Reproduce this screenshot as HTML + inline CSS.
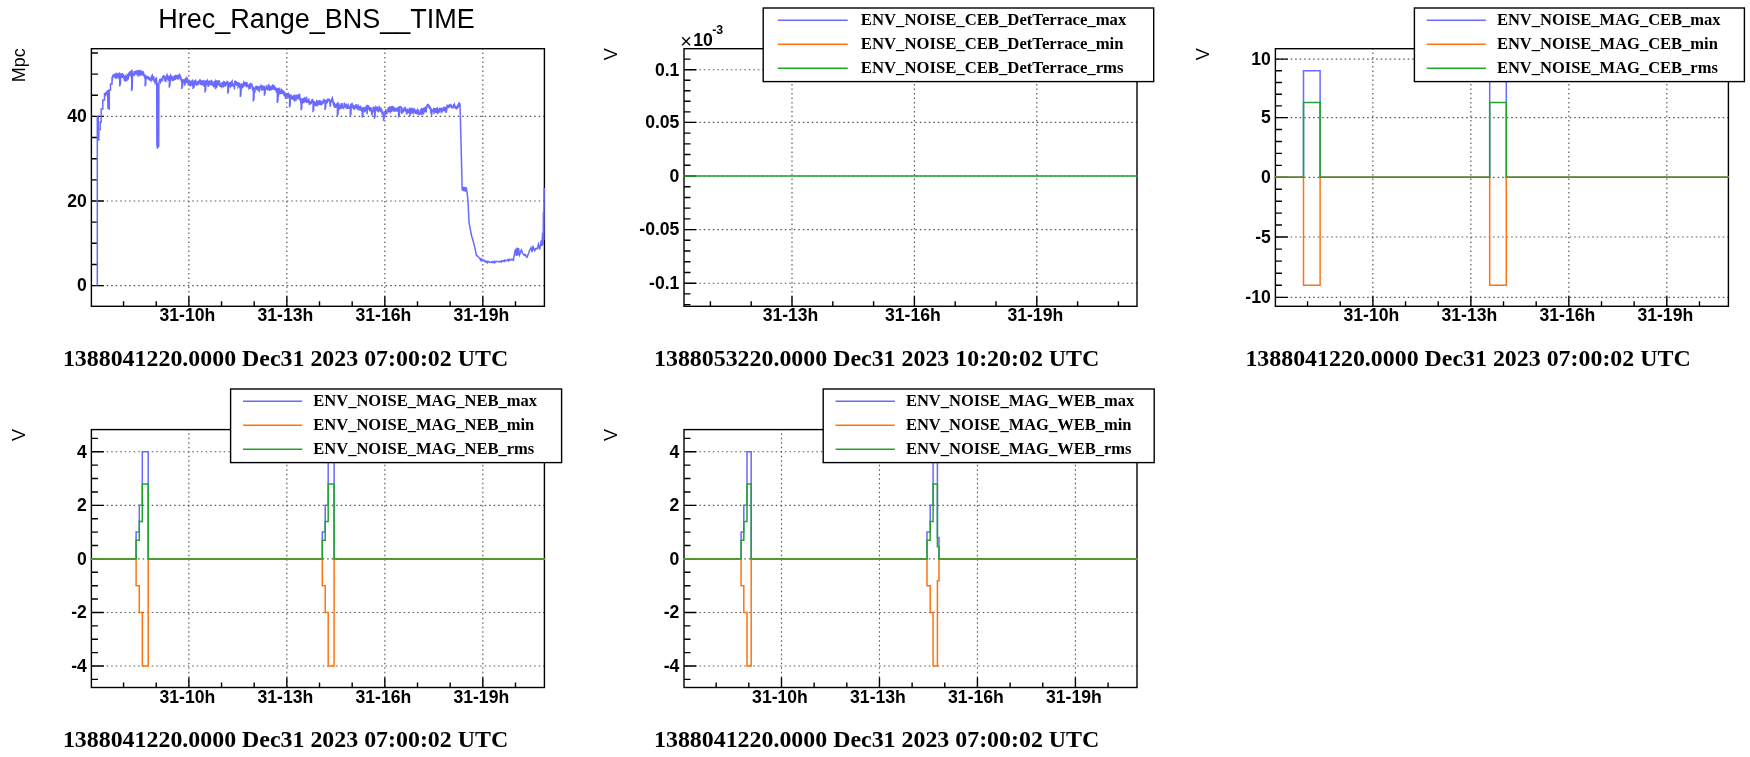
<!DOCTYPE html>
<html><head><meta charset="utf-8"><title>plots</title>
<style>
html,body{margin:0;padding:0;background:#fff;}
svg{display:block;will-change:transform}
text{fill:#000}
.tk{font-family:"Liberation Sans",sans-serif;font-weight:bold;font-size:17.6px}
.yt{font-family:"Liberation Sans",sans-serif;font-size:18px}
.ti{font-family:"Liberation Sans",sans-serif;font-size:27px}
.lg{font-family:"Liberation Serif",serif;font-weight:bold}
.bt{font-family:"Liberation Serif",serif;font-weight:bold;font-size:23.9px}
</style></head><body>
<svg width="1750" height="757" viewBox="0 0 1750 757">
<rect width="1750" height="757" fill="#fff"/>
<path d="M188.88 48.7V306.3M286.86 48.7V306.3M384.84 48.7V306.3M482.82 48.7V306.3" stroke="#555" stroke-width="1.15" stroke-dasharray="1.5 3" fill="none" stroke-dashoffset="0.75"/>
<path d="M91.4 285.6H544.4M91.4 201H544.4M91.4 116.4H544.4" stroke="#555" stroke-width="1.15" stroke-dasharray="1.5 3" fill="none" stroke-dashoffset="-1.8"/>
<path d="M188.88 306.3v-10M286.86 306.3v-10M384.84 306.3v-10M482.82 306.3v-10M123.56 306.3v-5M156.22 306.3v-5M221.54 306.3v-5M254.2 306.3v-5M319.52 306.3v-5M352.18 306.3v-5M417.5 306.3v-5M450.16 306.3v-5M515.48 306.3v-5M91.4 285.6h12.4M91.4 201h12.4M91.4 116.4h12.4M91.4 264.45h6.5M91.4 243.3h6.5M91.4 222.15h6.5M91.4 179.85h6.5M91.4 158.7h6.5M91.4 137.55h6.5M91.4 95.25h6.5M91.4 74.1h6.5M91.4 52.95h6.5" stroke="#000" stroke-width="1.4" fill="none"/>
<rect x="91.4" y="48.7" width="453" height="257.6" fill="none" stroke="#000" stroke-width="1.4"/>
<text x="187.38" y="320.6" class="tk" text-anchor="middle">31-10h</text>
<text x="285.36" y="320.6" class="tk" text-anchor="middle">31-13h</text>
<text x="383.34" y="320.6" class="tk" text-anchor="middle">31-16h</text>
<text x="481.32" y="320.6" class="tk" text-anchor="middle">31-19h</text>
<text x="86.8" y="291.4" class="tk" text-anchor="end">0</text>
<text x="86.8" y="206.8" class="tk" text-anchor="end">20</text>
<text x="86.8" y="122.2" class="tk" text-anchor="end">40</text>
<text transform="translate(24.6 48.2) rotate(-90)" class="yt" text-anchor="end">Mpc</text>
<path d="M97.3 285.6 L97.3 117 L98.3 117 L98.3 140 L98.8 140 L98.8 129.5 L100.2 129.5 L100.2 122 L101.2 122 L101.2 109 L102.8 109 L102.8 100 L104.5 100 L104.5 93 L105.2 96 L106 92 L106.8 95 L107.5 90 L108 109 L108.6 90 L109.3 110 L109.3 90 L110.5 90 L110.5 84 L112 84 L112 79 L112.3 79.34 L112.6 76.11 L112.9 75.84 L113.2 74.7 L113.5 77.45 L113.8 74.25 L114.1 76.68 L114.4 73.71 L114.7 77.7 L115 73.61 L115.3 75.22 L115.6 73.62 L115.9 78.7 L116.2 77.81 L116.5 73.43 L116.8 73.58 L117.1 77.92 L117.4 76.08 L117.7 77.3 L118 77.62 L118.3 73.24 L118.6 78.02 L118.9 73.97 L119.2 76.5 L119.5 73.51 L119.8 73.94 L119.7 86.4 L120.1 77.16 L120.3 84.9 L120.6 77.16 L120.1 78.45 L120.4 74.83 L120.7 75.69 L121 73.45 L121.3 74.71 L121.6 77.63 L121.9 74.15 L122.2 73.96 L122.5 77.49 L122.8 77.5 L123.1 75.17 L123.4 74.91 L123.7 76.06 L124 77.65 L124.3 79.99 L124.6 80.99 L124.9 76.53 L125.2 76.12 L125.5 79.16 L125.8 80.88 L126.1 80.6 L126.4 75.92 L126.7 79.96 L127 79.82 L127.3 74.81 L127.6 75.11 L127.9 75.9 L128.2 78.76 L128.5 78.15 L128.8 73.44 L129.1 72.57 L129.4 74.75 L129.7 75.84 L130 72.03 L130.3 71.14 L130.6 75.23 L130.9 75.75 L131.2 74.53 L131.5 70.52 L131.8 70.38 L131.6 91 L132 74 L132.2 89.5 L132.5 74 L132.1 71 L132.4 75.06 L132.7 74.32 L133 75.06 L133.3 75.04 L133.6 75.07 L133.9 75.06 L134.2 71.07 L134.5 74.83 L134.8 74.48 L135.1 72.92 L135.4 71.19 L135.7 73.02 L136 72.84 L136.3 70.41 L136.6 74.02 L136.9 74.05 L137.2 70.58 L137.5 74.98 L137.8 75.41 L138.1 70.94 L138.4 70.51 L138.7 70.58 L139 75.29 L139.3 73.93 L139.6 74.51 L139.9 70.16 L140.2 70.89 L140.5 72.27 L140.8 73.14 L141.1 75.36 L141.4 73.55 L141.7 75.64 L142 70.43 L142.3 74.77 L142.6 73.51 L142.9 74.68 L143.2 71.51 L143.5 72.26 L143.8 76.28 L144.1 75.35 L144.4 74.5 L144.7 78.52 L145 74.33 L145.3 78.91 L145.1 86.4 L145.5 76.8 L145.7 84.9 L146 76.8 L145.6 80.39 L145.9 80.33 L146.2 76.04 L146.5 76.08 L146.8 77.44 L147.1 76.81 L147.4 76.76 L147.7 77.54 L148 76.03 L148.3 77.66 L148.6 77.97 L148.9 79.64 L149.2 77.22 L149.5 80.47 L149.8 79.47 L150.1 80.58 L150.4 78.15 L150.7 80.38 L151 76.69 L151.3 80.32 L151.6 79.73 L151.9 75.58 L152.2 75.2 L152.5 79.47 L152.8 79.35 L153.1 76.24 L153.4 80.51 L153.7 76 L154 80.44 L154.3 82.11 L154.6 79.32 L154.9 81.4 L155.2 83.05 L155.5 82.33 L155.8 77.72 L156.1 78.91 L156.4 78.44 L156.7 81.98 L156.9 146.35 L157.1 84.59 L157.35 148.76 L157.55 82.91 L157.8 147.73 L158 83.48 L158.25 147.52 L158.45 84.78 L158.7 146.85 L158.9 83.45 L159.5 80.42 L159.8 79.29 L160.1 82.26 L160.4 78.62 L160.7 81.88 L161 81.24 L161.3 80.5 L161.6 78.22 L161.9 81.43 L162.2 78.68 L162.5 78.28 L162.8 76.87 L163.1 77.05 L163.4 76.53 L163.7 75.77 L164 75.8 L164.3 79.78 L164.6 79.34 L164.9 79.44 L165.2 76.86 L165.5 80.63 L165.8 82.12 L166.1 75.75 L166.4 79.22 L166.7 75.47 L167 74.78 L167.3 75.8 L167.6 79.63 L167.9 75.47 L168.2 79.75 L168.5 79.28 L168.8 76.03 L169.1 77.34 L169.4 79.44 L169.3 87.8 L169.7 77.88 L169.9 86.3 L170.2 77.88 L169.7 78.22 L170 76.14 L170.3 75.62 L170.6 80.99 L170.9 79.85 L171.2 76.45 L171.5 75.35 L171.8 77.05 L172.1 76.29 L172.4 78.62 L172.7 80.82 L173 79.49 L173.3 79.5 L173.6 77.79 L173.9 76.23 L174.2 79.66 L174.5 79.37 L174.8 76.17 L175.1 75.91 L175.4 79.84 L175.7 76.4 L176 75.94 L176.3 75.83 L176.6 78.11 L176.9 78.78 L177.2 74.86 L177.5 79.32 L177.8 76.1 L178.1 78.93 L178.4 78.87 L178.7 75.55 L179 74.99 L179.3 78.1 L179.6 75.66 L179.9 75.57 L180.2 75.42 L180.5 79.82 L180.8 76.7 L181.1 79.21 L181.4 82.01 L181.7 80.54 L182 79.07 L181.8 89 L182.2 81.37 L182.4 87.5 L182.7 81.37 L182.3 83.08 L182.6 82.67 L182.9 79.13 L183.2 83.18 L183.5 81.17 L183.8 80.44 L184.1 80.84 L184.4 82.72 L184.7 85.72 L185 78.45 L185.3 83.63 L185.6 83.53 L185.9 78.76 L186.2 79.09 L186.5 78.81 L186.8 83.07 L187.1 78.2 L187.4 78.82 L187.7 81.99 L188 82.43 L188.3 84.43 L188.6 84.01 L188.9 82.57 L189.2 80.32 L189.5 84.98 L189.8 85.17 L190.1 84.93 L190.4 85.24 L190.7 80.69 L191 82.88 L191.3 80.72 L191.6 84.72 L191.9 84.98 L192.2 81.6 L192.5 80.16 L192.8 80.37 L193.1 83.88 L193 89 L193.4 81.8 L193.6 87.5 L193.9 81.8 L193.4 84.48 L193.7 86.78 L194 86.93 L194.3 85.89 L194.6 80.5 L194.9 84.83 L195.2 80.78 L195.5 80.23 L195.8 80.57 L196.1 84.72 L196.4 81.6 L196.7 85.76 L197 83.58 L197.3 83.52 L197.6 84.82 L197.9 81.19 L198.2 84.98 L198.5 81.35 L198.8 81.13 L199.1 80.97 L199.4 80.59 L199.7 80.19 L200 83.53 L200.3 84.31 L200.6 79.78 L200.9 84.93 L201.2 80.27 L201.5 83.19 L201.8 80.64 L202.1 84.53 L202.4 85.2 L202.7 80.95 L203 80.86 L203.3 85.18 L203.6 85.48 L203.9 83.17 L204.2 81.28 L204.5 84.78 L204.8 81.05 L205.1 80.43 L205 92.4 L205.4 81.8 L205.6 90.9 L205.9 81.8 L205.4 85.25 L205.7 83.83 L206 83.95 L206.3 85.5 L206.6 81.26 L206.9 80.77 L207.2 83.9 L207.5 80.83 L207.8 81.52 L208.1 86.77 L208.4 85.4 L208.7 82.95 L209 80.69 L209.3 85.27 L209.6 83.21 L209.9 80.67 L210.2 82.55 L210.5 82.52 L210.8 80.91 L211.1 85.33 L211.4 81.03 L211.7 80.62 L212 81.25 L212.3 84.5 L212.6 85.16 L212.9 85.34 L213.2 85.32 L213.5 85.88 L213.8 82.53 L214.1 81.49 L214.4 87.25 L214.7 81.08 L215 81.76 L215.3 81.21 L215.6 89.32 L215.9 84.17 L215.9 88 L216.3 82.28 L216.5 86.5 L216.8 82.28 L216.2 80.35 L216.5 86.87 L216.8 87.73 L217.1 81.25 L217.4 80.39 L217.7 83.75 L218 81.33 L218.3 85.43 L218.6 80.25 L218.9 85.06 L219.2 80.81 L219.5 81.62 L219.8 85.94 L220.1 86.12 L220.4 84.58 L220.7 85.26 L221 85.76 L221.3 86.47 L221.6 85.19 L221.9 83.43 L222.2 83.8 L222.5 82.15 L222.8 86.6 L223.1 86.8 L223.4 86.11 L223.7 81.78 L224 81.99 L224.3 81.84 L224.6 82.1 L224.9 86.41 L225.2 82.43 L225.5 86.38 L225.8 85.69 L226.1 84.21 L226.4 82.53 L226.7 82.31 L227 84.28 L227.3 81.52 L227.6 81.69 L227.9 82.85 L227.8 93.7 L228.2 83.37 L228.4 92.2 L228.7 83.37 L228.2 86.46 L228.5 85.75 L228.8 82.22 L229.1 86.28 L229.4 83.2 L229.7 85.66 L230 86.27 L230.3 81.99 L230.6 86.82 L230.9 82.42 L231.2 86.58 L231.5 81.7 L231.8 81.76 L232.1 81.24 L232.4 85.27 L232.7 84.74 L233 84.9 L233.3 85.38 L233.6 84.77 L233.9 86.28 L234.2 85.26 L234.5 89.46 L234.8 80.83 L235.1 83.1 L235.4 80.69 L235.7 83.47 L236 85.11 L236.3 81.38 L236.6 85.68 L236.9 82.12 L237.2 83.45 L237.5 82.15 L237.8 83.44 L238.1 86.99 L238.4 86.37 L238.7 83.44 L239 83.74 L239.3 83.5 L239.6 84.49 L239.9 88.35 L240.2 86.33 L240.5 85.11 L240.3 97 L240.7 87.66 L240.9 95.5 L241.2 87.66 L240.8 84.55 L241.1 84.3 L241.4 87.77 L241.7 83.87 L242 84.67 L242.3 88.26 L242.6 87.12 L242.9 85.46 L243.2 83.3 L243.5 87.15 L243.8 82.61 L244.1 83.17 L244.4 83.44 L244.7 85.79 L245 85.01 L245.3 82.94 L245.6 83.4 L245.9 82.46 L246.2 87.16 L246.5 83.3 L246.8 82 L247.1 84.13 L247.4 86 L247.7 86.28 L248 87.13 L248.3 84.25 L248.6 86.45 L248.9 88.02 L249.2 87.23 L249.5 85.01 L249.8 84.52 L250.1 89.02 L250.4 85.53 L250.7 83.92 L251 84.19 L251.3 84.89 L251.6 83.44 L251.9 84.42 L252.2 86.95 L252.5 89.35 L252.8 90.24 L253.1 87.9 L253.4 86.49 L253.3 101.6 L253.7 87.64 L253.9 100.1 L254.2 87.64 L253.7 91.98 L254 89.15 L254.3 90.43 L254.6 91.72 L254.9 91.77 L255.2 87.38 L255.5 88.98 L255.8 86.65 L256.1 86.42 L256.4 86.88 L256.7 90.01 L257 88.38 L257.3 86.09 L257.6 87.1 L257.9 86.03 L258.2 89.82 L258.5 90.29 L258.8 90.65 L259.1 91.06 L259.4 86.57 L259.7 90.65 L260 85.92 L260.3 87.47 L260.6 86.12 L260.9 88.01 L261.2 85.68 L261.5 86.28 L261.8 90.6 L262.1 88.89 L262.4 90.5 L262.7 85.3 L263 90.14 L263.3 89.28 L263.6 89.14 L263.9 88.36 L264.2 85.96 L264.5 89.01 L264.4 95.7 L264.8 88.57 L265 94.2 L265.3 88.57 L264.8 88.87 L265.1 89.66 L265.4 89.65 L265.7 87.29 L266 89.69 L266.3 85.99 L266.6 86.08 L266.9 88.21 L267.2 89.67 L267.5 87.72 L267.8 89.5 L268.1 89.32 L268.4 85.09 L268.7 84.78 L269 85.44 L269.3 90.08 L269.6 90.21 L269.9 85.72 L270.2 90 L270.5 87.34 L270.8 86.16 L271.1 90.19 L271.4 89.32 L271.7 88.91 L272 85.44 L272.3 89.77 L272.6 85.05 L272.9 85.12 L273.2 85.78 L273.5 88.48 L273.8 88.05 L274.1 87.11 L274.4 85.36 L274.7 90.03 L275 87.91 L275.3 87.12 L275.6 90.84 L275.9 89.81 L276.2 87.77 L276.5 92.93 L276.8 87.8 L277.1 89.33 L277.4 88.47 L277.3 103 L277.7 91.52 L277.9 101.5 L278.2 91.52 L277.7 88.43 L278 89.41 L278.3 96.9 L278.6 93.07 L278.9 89.83 L279.2 88.68 L279.5 89.21 L279.8 94.47 L280.1 91.31 L280.4 92.67 L280.7 93.75 L281 91.4 L281.3 89.65 L281.6 90.22 L281.9 93.93 L282.2 89.63 L282.5 92.57 L282.8 90.94 L283.1 90.98 L283.4 92.51 L283.7 95.09 L284 91.07 L284.3 94.98 L284.6 95.77 L284.9 96.03 L285.2 92.59 L285.5 98.97 L285.8 95.72 L286.1 96.39 L286.4 96.45 L286.7 93.16 L287 94.33 L287.3 97.74 L287.6 93.02 L287.9 93.79 L288.2 93.75 L288.5 98.12 L288.8 93.9 L289.1 94.25 L289.4 95.94 L289.7 96.35 L289.5 107.6 L289.9 96.12 L290.1 106.1 L290.4 96.12 L290 98.75 L290.3 97.81 L290.6 99.31 L290.9 94.55 L291.2 95.5 L291.5 99.31 L291.8 95.69 L292.1 99.36 L292.4 95.78 L292.7 98.57 L293 99.2 L293.3 99.23 L293.6 95.37 L293.9 100.46 L294.2 99.52 L294.5 94.49 L294.8 101.56 L295.1 98.49 L295.4 97.03 L295.7 98.97 L296 99.38 L296.3 94.55 L296.6 97.74 L296.9 95.24 L297.2 98.78 L297.5 94.91 L297.8 99.5 L298.1 98.75 L298.4 95.36 L298.7 97.94 L299 93.9 L299.3 97.62 L299.6 93.8 L299.9 99.04 L300.2 100.67 L300.5 97.66 L300.8 102.68 L301.1 103.16 L301.1 110.2 L301.5 100.97 L301.7 108.7 L302 100.97 L301.4 99.34 L301.7 99.49 L302 103.58 L302.3 102.9 L302.6 102.59 L302.9 98.74 L303.2 98.72 L303.5 98.85 L303.8 103.19 L304.1 97.86 L304.4 98.9 L304.7 102.23 L305 98.19 L305.3 98.58 L305.6 98.84 L305.9 102.24 L306.2 98.51 L306.5 97.94 L306.8 102.95 L307.1 98.79 L307.4 102.89 L307.7 101.91 L308 101.8 L308.3 102.13 L308.6 102.48 L308.9 98.6 L309.2 103.58 L309.5 105 L309.8 103.18 L310.1 102.43 L310.4 102.99 L310.7 102.3 L311 102.85 L311.3 103.08 L311.6 101.73 L311.9 102.61 L312.2 100.52 L312.5 98.89 L312.8 99.95 L313.1 104.11 L313 112.2 L313.4 101 L313.6 110.7 L313.9 101 L313.4 103.85 L313.7 102.02 L314 105.42 L314.3 101.15 L314.6 105.62 L314.9 101.97 L315.2 104.79 L315.5 105.39 L315.8 105.36 L316.1 103.91 L316.4 104.45 L316.7 99.92 L317 101.1 L317.3 104.3 L317.6 100.89 L317.9 104.92 L318.2 104.59 L318.5 100.88 L318.8 101.97 L319.1 104.57 L319.4 100.13 L319.7 105.01 L320 100.06 L320.3 102.06 L320.6 104.53 L320.9 104.46 L321.2 101.21 L321.5 104.39 L321.8 104.5 L322.1 103.62 L322.4 100.97 L322.7 103.4 L323 100.28 L323.3 103.64 L323.6 99.97 L323.9 99.58 L324.2 99.94 L324.5 99.92 L324.8 99.26 L325.1 104.11 L325 110 L325.4 101.6 L325.6 108.5 L325.9 101.6 L325.4 100.12 L325.7 101.91 L326 103.65 L326.3 103.42 L326.6 101.17 L326.9 99.75 L327.2 103.07 L327.5 102.14 L327.8 98.53 L328.1 101.27 L328.4 99.69 L328.7 99.52 L329 99.25 L329.3 99.78 L329.6 100.74 L329.9 103.4 L330.2 106.57 L330.5 104.16 L330.8 99.89 L331.1 102.17 L331.4 99.22 L331.7 101.09 L332 98.52 L332.3 98 L332.6 102.54 L332.9 99.24 L333.2 103.43 L333.5 104.5 L333.8 103.41 L334.1 102.18 L334.4 104.91 L334.7 106.54 L335 107.96 L335.3 104.33 L335.6 105.03 L335.9 104.66 L336.2 107.6 L336.5 106.4 L336.8 105.56 L337.1 103.9 L337.4 108.84 L337.4 116.2 L337.8 105.06 L338 114.7 L338.3 105.06 L337.7 104.34 L338 108.77 L338.3 103.74 L338.6 104.34 L338.9 104.24 L339.2 108.89 L339.5 108.3 L339.8 104.92 L340.1 108.41 L340.4 104.9 L340.7 108.36 L341 108.43 L341.3 103.81 L341.6 103.89 L341.9 107.41 L342.2 103.4 L342.5 107.61 L342.8 107.94 L343.1 107.74 L343.4 107.86 L343.7 108.3 L344 107.2 L344.3 102.65 L344.6 106.65 L344.9 106.42 L345.2 104.26 L345.5 106.3 L345.8 107.29 L346.1 107.56 L346.4 103.67 L346.7 108.28 L347 105.06 L347.3 108.88 L347.6 107.99 L347.9 105.49 L348.2 104.99 L348.5 107.43 L348.8 107.27 L349.1 108.13 L349.4 108.11 L349.7 105.73 L350 107.21 L350.3 107.44 L350.3 116.2 L350.7 105.4 L350.9 114.7 L351.2 105.4 L350.6 103.74 L350.9 105.15 L351.2 107.92 L351.5 107.69 L351.8 107.51 L352.1 102.89 L352.4 107.92 L352.7 104.43 L353 108.41 L353.3 104.95 L353.6 108.44 L353.9 108.92 L354.2 106.86 L354.5 106.19 L354.8 106.35 L355.1 108.72 L355.4 107.71 L355.7 105.33 L356 104.07 L356.3 106.34 L356.6 106.6 L356.9 107.82 L357.2 108.82 L357.5 108.73 L357.8 109.13 L358.1 104.28 L358.4 107.88 L358.7 109.25 L359 105.94 L359.3 109.48 L359.6 106.89 L359.9 110.68 L360.2 106.33 L360.5 106.29 L360.8 106.59 L361.1 108.36 L361.4 108.66 L361.7 111.76 L362 108.25 L362.3 111.88 L362.2 117.5 L362.6 109.01 L362.8 116 L363.1 109.01 L362.6 107.34 L362.9 110.12 L363.2 107.95 L363.5 107.15 L363.8 111.48 L364.1 107.33 L364.4 110.31 L364.7 111.63 L365 111.6 L365.3 106.77 L365.6 111.02 L365.9 106.82 L366.2 109.8 L366.5 105.58 L366.8 108.15 L367.1 114.23 L367.4 105.76 L367.7 106.06 L368 109.85 L368.3 106.1 L368.6 106 L368.9 108.06 L369.2 109.56 L369.5 107.14 L369.8 111.57 L370.1 107.07 L370.4 110.81 L370.7 107.6 L371 111.08 L371.3 107.43 L371.6 112.03 L371.9 115.43 L372.2 112.58 L372.5 112.73 L372.8 111.93 L373.1 109.28 L373.4 106.46 L373.7 107.22 L374 111.8 L374.3 107.91 L374.6 112.5 L374.4 118.8 L374.8 109.78 L375 117.3 L375.3 109.78 L374.9 112.61 L375.2 108.02 L375.5 107.45 L375.8 109.56 L376.1 111.17 L376.4 108.95 L376.7 106.86 L377 108.65 L377.3 108.09 L377.6 106.42 L377.9 110.91 L378.2 110.61 L378.5 107.85 L378.8 111.29 L379.1 110.95 L379.4 107.32 L379.7 107.9 L380 110.09 L380.3 110.59 L380.6 109.19 L380.9 107.49 L381.2 112.53 L381.5 110.78 L381.8 110.44 L382.1 114.45 L382.4 112.01 L382.7 113.07 L383 112.64 L383.3 115.77 L383.6 118.97 L383.4 120.8 L383.8 115.47 L384 119.3 L384.3 115.47 L383.9 113.57 L384.2 113.35 L384.5 114.65 L384.8 115.23 L385.1 112.53 L385.4 114.33 L385.7 108.98 L386 113.65 L386.3 113.53 L386.6 111.37 L386.9 114.12 L387.2 110.67 L387.5 111.61 L387.8 112.41 L388.1 107.65 L388.4 111.09 L388.7 111.32 L389 107.06 L389.3 111.1 L389.6 111.28 L389.9 107.06 L390.2 107.16 L390.5 111.8 L390.8 111.24 L391.1 111.49 L391.4 111.32 L391.7 106.94 L392 107.17 L392.3 107.08 L392.6 107.67 L392.9 111.19 L393.2 106.89 L393.5 107.19 L393.8 111.6 L394.1 106.96 L394.4 109.93 L394.7 108.05 L395 111.39 L395.3 109.06 L395.6 111.59 L395.9 109.8 L396.2 108.3 L396.5 108.34 L396.8 109.33 L397.1 110.6 L397.4 111.04 L397.7 111.13 L398 107.59 L398.3 107.63 L398.6 107.46 L398.6 117.5 L399 110.64 L399.2 116 L399.5 110.64 L398.9 107.57 L399.2 107.11 L399.5 107.61 L399.8 106.97 L400.1 107.13 L400.4 107.11 L400.7 106.83 L401 107.66 L401.3 111.73 L401.6 113.97 L401.9 107.34 L402.2 111.72 L402.5 110.22 L402.8 110.96 L403.1 111.83 L403.4 111.66 L403.7 111.11 L404 107.81 L404.3 110.96 L404.6 109.08 L404.9 109.01 L405.2 107.54 L405.5 107.96 L405.8 111.75 L406.1 109.33 L406.4 112.74 L406.7 113.62 L407 113.24 L407.3 109.94 L407.6 108.55 L407.9 113.33 L408.2 109.21 L408.5 112.52 L408.8 112.55 L409.1 112.37 L409.4 112.54 L409.7 107.55 L410 112.58 L409.8 116.2 L410.2 110.83 L410.4 114.7 L410.7 110.83 L410.3 109.09 L410.6 112.61 L410.9 107.98 L411.2 113.33 L411.5 110.46 L411.8 108.46 L412.1 108.41 L412.4 112.2 L412.7 112.09 L413 112.73 L413.3 108.55 L413.6 109.25 L413.9 109.17 L414.2 109.07 L414.5 112.66 L414.8 110.45 L415.1 112.07 L415.4 113.8 L415.7 109.47 L416 110.49 L416.3 113.83 L416.6 110.13 L416.9 112.92 L417.2 114.4 L417.5 112.61 L417.8 109.97 L418.1 110.61 L418.4 109.88 L418.7 114 L419 114.36 L419.3 113.93 L419.6 114.29 L419.9 114.18 L420.2 112.86 L420.5 109.6 L420.8 113.66 L421.1 109.41 L421.4 109.07 L421.7 112.44 L421.7 115.5 L422.1 110.43 L422.3 114 L422.6 110.43 L422 109.86 L422.3 113.94 L422.6 108.26 L422.9 112.85 L423.2 112.66 L423.5 107.68 L423.8 112.74 L424.1 112.18 L424.4 111.15 L424.7 107.22 L425 112.24 L425.3 106.86 L425.6 110.99 L425.9 108.35 L426.2 112.56 L426.5 105.75 L426.8 108.5 L427.1 105.19 L427.4 104.72 L427.7 104.98 L428 104.63 L428.3 104.94 L428.6 105.68 L428.9 107.64 L429.2 106.77 L429.5 106.37 L429.8 108.8 L430.1 107.69 L430.4 107.03 L430.7 112.3 L431 112.78 L431.3 108.54 L431.6 115.61 L431.9 111.84 L432.2 111.46 L432.5 111.39 L432.8 110.67 L433.1 111.64 L433.4 110.09 L433.7 107.94 L434 110.34 L434 114 L434.4 109.83 L434.6 112.5 L434.9 109.83 L434.3 112.3 L434.6 109.44 L434.9 107.98 L435.2 112.74 L435.5 108.42 L435.8 112.51 L436.1 109.55 L436.4 113.06 L436.7 112.31 L437 108.24 L437.3 108.03 L437.6 113.34 L437.9 113.09 L438.2 112.61 L438.5 108.65 L438.8 110.68 L439.1 110.83 L439.4 112.68 L439.7 108.34 L440 108.41 L440.3 108.4 L440.6 108.44 L440.9 109.14 L441.2 111.41 L441.5 110.71 L441.8 107.77 L442.1 109.56 L442.4 111.07 L442.7 110.36 L443 108.42 L443.3 110.91 L443.6 107.57 L443.9 107.42 L444.2 107.36 L444.5 111.41 L444.8 109.05 L445.1 106.93 L445.4 109.2 L445.7 110.25 L446 106.72 L446 113 L446.4 108.6 L446.6 111.5 L446.9 108.6 L446.3 108.18 L446.6 108.69 L446.9 108.65 L447.2 105.48 L447.5 105.68 L447.8 105.53 L448.1 107.02 L448.4 106.86 L448.7 108.11 L449 106.45 L449.3 105.4 L449.6 105.86 L449.9 107.47 L450.2 105.64 L450.5 105.17 L450.8 106.79 L451.1 105.18 L451.4 105.21 L451.7 107.13 L452 108.23 L452.3 106.69 L452.6 107.21 L452.9 107.62 L453.2 107.03 L453.5 107.05 L453.8 104.16 L454.1 105.07 L454.4 104.46 L454.7 106.09 L455 107.61 L455.3 107.92 L455.6 105.72 L455.9 108.3 L456.2 106.65 L456.5 107.97 L456.8 109.42 L457.1 107.63 L457.4 106.67 L457.7 104.63 L458 107.32 L458.3 107.03 L458.6 106.36 L458.9 103.11 L459.2 103.31 L459.5 104.82 L459.8 105.86 L460.1 104.68 L460 103.2 L461.1 145.5 L462.2 190.5 L463 187 L463.8 191 L464.6 186.8 L465.4 191.5 L466.2 187.5 L467 191.8 L468 201 L468.5 211.46 L469 222.01 L469.55 225.38 L470.1 228.32 L470.65 231.1 L471.2 234.02 L471.72 236.25 L472.24 238.13 L472.76 239.56 L473.28 241.61 L473.8 243.44 L474.34 245.67 L474.88 247.88 L475.42 250.44 L475.96 253.01 L476.5 255.36 L477.06 255.89 L477.61 255.91 L478.17 256.61 L478.73 257.32 L479.29 258.04 L479.84 258.54 L480.4 259.86 L480.91 258.97 L481.42 260.4 L481.92 259.56 L482.43 260.63 L482.94 259.98 L483.45 260.67 L483.95 260.58 L484.46 260.31 L484.97 261.58 L485.48 261.81 L485.98 261.26 L486.49 262.18 L487 261.97 L487.5 262.68 L488.01 261.38 L488.51 261.83 L489.02 261.62 L489.52 262.17 L490.03 262.39 L490.53 262.48 L491.04 262.07 L491.54 261.84 L492.05 262.42 L492.55 261.45 L493.06 261.66 L493.56 262.35 L494.07 261.92 L494.57 262.69 L495.08 261.43 L495.58 261.95 L496.09 261.6 L496.59 261.3 L497.1 261.43 L497.6 261.43 L498.13 261.72 L498.65 261.72 L499.18 261.73 L499.71 261.33 L500.23 261.82 L500.76 261.46 L501.29 262.02 L501.81 260.79 L502.34 261.17 L502.87 261.06 L503.39 260.79 L503.92 261.39 L504.45 260.38 L504.97 261.22 L505.5 260.4 L506 260.29 L506.5 260.6 L507 260.44 L507.5 259.97 L508 259.61 L508.5 260.75 L509 259.85 L509.5 259.41 L510 260.09 L510.5 259.83 L511 259.46 L511.5 259.38 L512 260.03 L512.5 259.24 L513 259.27 L513.5 259.94 L514.02 256.46 L514.55 253.86 L515.08 250.88 L515.6 248.93 L516.3 256 L517 247.5 L517.8 255.5 L518.6 248 L519.5 255 L520.13 253.56 L520.77 251.59 L521.4 249.87 L521.93 250.96 L522.47 253.07 L523 253.94 L523.6 254.79 L524.2 254.47 L524.8 255.3 L525.4 254.64 L525.93 255.47 L526.47 257.08 L527 257.26 L527.6 255.85 L528.2 254.2 L528.8 252.76 L529.4 250.98 L529.93 249.61 L530.47 248.94 L531 247.67 L531.5 249.36 L532 252.2 L532.5 248.74 L533 246.66 L533.5 247.54 L534 249.51 L534.5 250.74 L535 250.24 L535.5 248.82 L536 248.48 L536.65 248.91 L537.3 248.49 L537.9 246.23 L538.5 244.25 L539.05 246.81 L539.6 249.66 L540.17 246.99 L540.73 243.8 L541.3 240.41 L542 246 L542.6 232.9 L543.1 245 L543.4 211.7 L543.8 240 L544.2 187.9" stroke="#6a6aff" stroke-width="1.5" fill="none" stroke-linejoin="miter"/>
<text x="316.5" y="28" class="ti" text-anchor="middle">Hrec_Range_BNS__TIME</text>
<text x="62.9" y="365.7" class="bt">1388041220.0000 Dec31 2023 07:00:02 UTC</text>
<path d="M792 48.7V306.3M914.4 48.7V306.3M1036.8 48.7V306.3" stroke="#555" stroke-width="1.15" stroke-dasharray="1.5 3" fill="none" stroke-dashoffset="0.75"/>
<path d="M684 283.2H1137M684 229.6H1137M684 176H1137M684 122.4H1137M684 69.7H1137" stroke="#555" stroke-width="1.15" stroke-dasharray="1.5 3" fill="none" stroke-dashoffset="-1.8"/>
<path d="M792 306.3v-10M914.4 306.3v-10M1036.8 306.3v-10M710.4 306.3v-5M751.2 306.3v-5M832.8 306.3v-5M873.6 306.3v-5M955.2 306.3v-5M996 306.3v-5M1077.6 306.3v-5M1118.4 306.3v-5M684 283.2h12.4M684 229.6h12.4M684 176h12.4M684 122.4h12.4M684 69.7h12.4M684 304.64h6.5M684 293.92h6.5M684 272.48h6.5M684 261.76h6.5M684 251.04h6.5M684 240.32h6.5M684 218.88h6.5M684 208.16h6.5M684 197.44h6.5M684 186.72h6.5M684 165.28h6.5M684 154.56h6.5M684 143.84h6.5M684 133.12h6.5M684 111.86h6.5M684 101.32h6.5M684 90.78h6.5M684 80.24h6.5M684 59.16h6.5" stroke="#000" stroke-width="1.4" fill="none"/>
<rect x="684" y="48.7" width="453" height="257.6" fill="none" stroke="#000" stroke-width="1.4"/>
<text x="790.5" y="320.6" class="tk" text-anchor="middle">31-13h</text>
<text x="912.9" y="320.6" class="tk" text-anchor="middle">31-16h</text>
<text x="1035.3" y="320.6" class="tk" text-anchor="middle">31-19h</text>
<text x="679.4" y="289" class="tk" text-anchor="end">-0.1</text>
<text x="679.4" y="235.4" class="tk" text-anchor="end">-0.05</text>
<text x="679.4" y="181.8" class="tk" text-anchor="end">0</text>
<text x="679.4" y="128.2" class="tk" text-anchor="end">0.05</text>
<text x="679.4" y="75.5" class="tk" text-anchor="end">0.1</text>
<text transform="translate(617.2 48.2) rotate(-90)" class="yt" text-anchor="end">V</text>
<path d="M683.3 176H1137.7" stroke="#20a62a" stroke-width="1.5"/>
<text x="680.3" y="47.5" class="tk" style="font-weight:normal;font-size:20px">×</text>
<text x="693.2" y="45.7" class="tk">10</text>
<text x="712.2" y="34.0" class="tk" style="font-size:12.3px">-3</text>
<rect x="763.2" y="8" width="390.5" height="73.6" fill="#fff" stroke="#000" stroke-width="1.4"/>
<path d="M777.84 20.2H847.74" stroke="#6a6aff" stroke-width="1.5"/>
<text x="860.83" y="24.9" class="lg" font-size="16.7">ENV_NOISE_CEB_DetTerrace_max</text>
<path d="M777.84 44.2H847.74" stroke="#ff7410" stroke-width="1.5"/>
<text x="860.83" y="48.9" class="lg" font-size="16.7">ENV_NOISE_CEB_DetTerrace_min</text>
<path d="M777.84 68.2H847.74" stroke="#20a62a" stroke-width="1.5"/>
<text x="860.83" y="72.9" class="lg" font-size="16.7">ENV_NOISE_CEB_DetTerrace_rms</text>
<text x="654" y="365.7" class="bt">1388053220.0000 Dec31 2023 10:20:02 UTC</text>
<path d="M1372.88 48.7V306.3M1470.86 48.7V306.3M1568.84 48.7V306.3M1666.82 48.7V306.3" stroke="#555" stroke-width="1.15" stroke-dasharray="1.5 3" fill="none" stroke-dashoffset="0.75"/>
<path d="M1275.4 297.4H1728.4M1275.4 237H1728.4M1275.4 177.3H1728.4M1275.4 117.6H1728.4M1275.4 59.1H1728.4" stroke="#555" stroke-width="1.15" stroke-dasharray="1.5 3" fill="none" stroke-dashoffset="-1.8"/>
<path d="M1372.88 306.3v-10M1470.86 306.3v-10M1568.84 306.3v-10M1666.82 306.3v-10M1307.56 306.3v-5M1340.22 306.3v-5M1405.54 306.3v-5M1438.2 306.3v-5M1503.52 306.3v-5M1536.18 306.3v-5M1601.5 306.3v-5M1634.16 306.3v-5M1699.48 306.3v-5M1275.4 297.4h12.4M1275.4 237h12.4M1275.4 177.3h12.4M1275.4 117.6h12.4M1275.4 59.1h12.4M1275.4 285.32h6.5M1275.4 273.24h6.5M1275.4 261.16h6.5M1275.4 249.08h6.5M1275.4 225.06h6.5M1275.4 213.12h6.5M1275.4 201.18h6.5M1275.4 189.24h6.5M1275.4 165.36h6.5M1275.4 153.42h6.5M1275.4 141.48h6.5M1275.4 129.54h6.5M1275.4 105.9h6.5M1275.4 94.2h6.5M1275.4 82.5h6.5M1275.4 70.8h6.5" stroke="#000" stroke-width="1.4" fill="none"/>
<rect x="1275.4" y="48.7" width="453" height="257.6" fill="none" stroke="#000" stroke-width="1.4"/>
<text x="1371.38" y="320.6" class="tk" text-anchor="middle">31-10h</text>
<text x="1469.36" y="320.6" class="tk" text-anchor="middle">31-13h</text>
<text x="1567.34" y="320.6" class="tk" text-anchor="middle">31-16h</text>
<text x="1665.32" y="320.6" class="tk" text-anchor="middle">31-19h</text>
<text x="1270.8" y="303.2" class="tk" text-anchor="end">-10</text>
<text x="1270.8" y="242.8" class="tk" text-anchor="end">-5</text>
<text x="1270.8" y="183.1" class="tk" text-anchor="end">0</text>
<text x="1270.8" y="123.4" class="tk" text-anchor="end">5</text>
<text x="1270.8" y="64.9" class="tk" text-anchor="end">10</text>
<text transform="translate(1208.6 48.2) rotate(-90)" class="yt" text-anchor="end">V</text>
<path d="M1274.7 177.3H1303.5V70.8H1320.1V177.3H1489.7V70.8H1506.3V177.3H1729.1" stroke="#6a6aff" stroke-width="1.5" fill="none"/>
<path d="M1274.7 177.3H1303.5V285.32H1320.1V177.3H1489.7V285.32H1506.3V177.3H1729.1" stroke="#ff7410" stroke-width="1.5" fill="none"/>
<path d="M1274.7 177.3H1303.5V102.39H1320.1V177.3H1489.7V102.39H1506.3V177.3H1729.1" stroke="#20a62a" stroke-width="1.5" fill="none"/>
<rect x="1414.4" y="8" width="330" height="73.6" fill="#fff" stroke="#000" stroke-width="1.4"/>
<path d="M1426.78 20.2H1485.85" stroke="#6a6aff" stroke-width="1.5"/>
<text x="1496.9" y="24.9" class="lg" font-size="16.5">ENV_NOISE_MAG_CEB_max</text>
<path d="M1426.78 44.2H1485.85" stroke="#ff7410" stroke-width="1.5"/>
<text x="1496.9" y="48.9" class="lg" font-size="16.5">ENV_NOISE_MAG_CEB_min</text>
<path d="M1426.78 68.2H1485.85" stroke="#20a62a" stroke-width="1.5"/>
<text x="1496.9" y="72.9" class="lg" font-size="16.5">ENV_NOISE_MAG_CEB_rms</text>
<text x="1245.4" y="365.7" class="bt">1388041220.0000 Dec31 2023 07:00:02 UTC</text>
<path d="M188.88 429.6V687.5M286.86 429.6V687.5M384.84 429.6V687.5M482.82 429.6V687.5" stroke="#555" stroke-width="1.15" stroke-dasharray="1.5 3" fill="none" stroke-dashoffset="0.75"/>
<path d="M91.4 666.02H544.4M91.4 612.46H544.4M91.4 558.9H544.4M91.4 505.34H544.4M91.4 451.78H544.4" stroke="#555" stroke-width="1.15" stroke-dasharray="1.5 3" fill="none" stroke-dashoffset="-1.8"/>
<path d="M188.88 687.5v-10M286.86 687.5v-10M384.84 687.5v-10M482.82 687.5v-10M123.56 687.5v-5M156.22 687.5v-5M221.54 687.5v-5M254.2 687.5v-5M319.52 687.5v-5M352.18 687.5v-5M417.5 687.5v-5M450.16 687.5v-5M515.48 687.5v-5M91.4 666.02h12.4M91.4 612.46h12.4M91.4 558.9h12.4M91.4 505.34h12.4M91.4 451.78h12.4M91.4 679.41h6.5M91.4 652.63h6.5M91.4 639.24h6.5M91.4 625.85h6.5M91.4 599.07h6.5M91.4 585.68h6.5M91.4 572.29h6.5M91.4 545.51h6.5M91.4 532.12h6.5M91.4 518.73h6.5M91.4 491.95h6.5M91.4 478.56h6.5M91.4 465.17h6.5M91.4 438.39h6.5" stroke="#000" stroke-width="1.4" fill="none"/>
<rect x="91.4" y="429.6" width="453" height="257.9" fill="none" stroke="#000" stroke-width="1.4"/>
<text x="187.38" y="702.6" class="tk" text-anchor="middle">31-10h</text>
<text x="285.36" y="702.6" class="tk" text-anchor="middle">31-13h</text>
<text x="383.34" y="702.6" class="tk" text-anchor="middle">31-16h</text>
<text x="481.32" y="702.6" class="tk" text-anchor="middle">31-19h</text>
<text x="86.8" y="671.82" class="tk" text-anchor="end">-4</text>
<text x="86.8" y="618.26" class="tk" text-anchor="end">-2</text>
<text x="86.8" y="564.7" class="tk" text-anchor="end">0</text>
<text x="86.8" y="511.14" class="tk" text-anchor="end">2</text>
<text x="86.8" y="457.58" class="tk" text-anchor="end">4</text>
<text transform="translate(24.6 429.1) rotate(-90)" class="yt" text-anchor="end">V</text>
<path d="M90.7 558.9H136.1V532.12H139.3V505.34H142.3V451.78H148.2V558.9H322.3V532.12H325.2V505.34H328.2V451.78H334.1V558.9H545.1" stroke="#6a6aff" stroke-width="1.5" fill="none"/>
<path d="M90.7 558.9H136.1V585.68H139.3V612.46H142.3V666.02H148.2V558.9H322.3V585.68H325.2V612.46H328.2V666.02H334.1V558.9H545.1" stroke="#ff7410" stroke-width="1.5" fill="none"/>
<path d="M90.7 558.9H136.1V540.15H139.3V521.41H142.3V483.92H148.2V558.9H322.3V540.15H325.2V521.41H328.2V483.92H334.1V558.9H545.1" stroke="#20a62a" stroke-width="1.5" fill="none"/>
<rect x="230.6" y="389" width="331" height="73.6" fill="#fff" stroke="#000" stroke-width="1.4"/>
<path d="M243.01 401.2H302.26" stroke="#6a6aff" stroke-width="1.5"/>
<text x="313.35" y="405.9" class="lg" font-size="16.5">ENV_NOISE_MAG_NEB_max</text>
<path d="M243.01 425.2H302.26" stroke="#ff7410" stroke-width="1.5"/>
<text x="313.35" y="429.9" class="lg" font-size="16.5">ENV_NOISE_MAG_NEB_min</text>
<path d="M243.01 449.2H302.26" stroke="#20a62a" stroke-width="1.5"/>
<text x="313.35" y="453.9" class="lg" font-size="16.5">ENV_NOISE_MAG_NEB_rms</text>
<text x="62.9" y="746.7" class="bt">1388041220.0000 Dec31 2023 07:00:02 UTC</text>
<path d="M781.48 429.6V687.5M879.46 429.6V687.5M977.44 429.6V687.5M1075.42 429.6V687.5" stroke="#555" stroke-width="1.15" stroke-dasharray="1.5 3" fill="none" stroke-dashoffset="0.75"/>
<path d="M684 666.02H1137M684 612.46H1137M684 558.9H1137M684 505.34H1137M684 451.78H1137" stroke="#555" stroke-width="1.15" stroke-dasharray="1.5 3" fill="none" stroke-dashoffset="-1.8"/>
<path d="M781.48 687.5v-10M879.46 687.5v-10M977.44 687.5v-10M1075.42 687.5v-10M716.16 687.5v-5M748.82 687.5v-5M814.14 687.5v-5M846.8 687.5v-5M912.12 687.5v-5M944.78 687.5v-5M1010.1 687.5v-5M1042.76 687.5v-5M1108.08 687.5v-5M684 666.02h12.4M684 612.46h12.4M684 558.9h12.4M684 505.34h12.4M684 451.78h12.4M684 679.41h6.5M684 652.63h6.5M684 639.24h6.5M684 625.85h6.5M684 599.07h6.5M684 585.68h6.5M684 572.29h6.5M684 545.51h6.5M684 532.12h6.5M684 518.73h6.5M684 491.95h6.5M684 478.56h6.5M684 465.17h6.5M684 438.39h6.5" stroke="#000" stroke-width="1.4" fill="none"/>
<rect x="684" y="429.6" width="453" height="257.9" fill="none" stroke="#000" stroke-width="1.4"/>
<text x="779.98" y="702.6" class="tk" text-anchor="middle">31-10h</text>
<text x="877.96" y="702.6" class="tk" text-anchor="middle">31-13h</text>
<text x="975.94" y="702.6" class="tk" text-anchor="middle">31-16h</text>
<text x="1073.92" y="702.6" class="tk" text-anchor="middle">31-19h</text>
<text x="679.4" y="671.82" class="tk" text-anchor="end">-4</text>
<text x="679.4" y="618.26" class="tk" text-anchor="end">-2</text>
<text x="679.4" y="564.7" class="tk" text-anchor="end">0</text>
<text x="679.4" y="511.14" class="tk" text-anchor="end">2</text>
<text x="679.4" y="457.58" class="tk" text-anchor="end">4</text>
<text transform="translate(617.2 429.1) rotate(-90)" class="yt" text-anchor="end">V</text>
<path d="M683.3 558.9H741.1V532.12H743.8V505.34H747V451.78H751.2V558.9H927V532.12H930.2V505.34H933.1V451.78H937.4V537.48H939V558.9H1137.7" stroke="#6a6aff" stroke-width="1.5" fill="none"/>
<path d="M683.3 558.9H741.1V585.68H743.8V612.46H747V666.02H751.2V558.9H927V585.68H930.2V612.46H933.1V666.02H937.4V580.86H939V558.9H1137.7" stroke="#ff7410" stroke-width="1.5" fill="none"/>
<path d="M683.3 558.9H741.1V540.15H743.8V521.41H747V483.92H751.2V558.9H927V540.15H930.2V521.41H933.1V483.92H937.4V546.85H939V558.9H1137.7" stroke="#20a62a" stroke-width="1.5" fill="none"/>
<rect x="823.2" y="389" width="331" height="73.6" fill="#fff" stroke="#000" stroke-width="1.4"/>
<path d="M835.61 401.2H894.86" stroke="#6a6aff" stroke-width="1.5"/>
<text x="905.95" y="405.9" class="lg" font-size="16.5">ENV_NOISE_MAG_WEB_max</text>
<path d="M835.61 425.2H894.86" stroke="#ff7410" stroke-width="1.5"/>
<text x="905.95" y="429.9" class="lg" font-size="16.5">ENV_NOISE_MAG_WEB_min</text>
<path d="M835.61 449.2H894.86" stroke="#20a62a" stroke-width="1.5"/>
<text x="905.95" y="453.9" class="lg" font-size="16.5">ENV_NOISE_MAG_WEB_rms</text>
<text x="654" y="746.7" class="bt">1388041220.0000 Dec31 2023 07:00:02 UTC</text>
</svg></body></html>
